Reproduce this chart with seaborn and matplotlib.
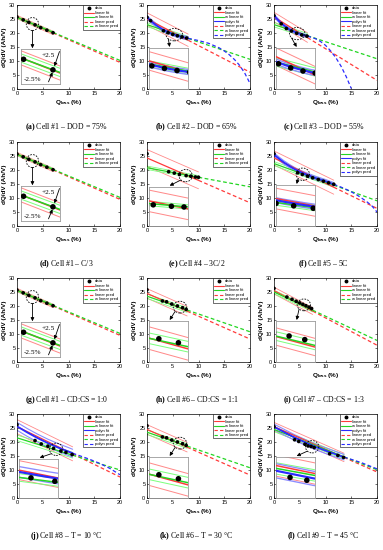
import numpy as np
import matplotlib
matplotlib.use("Agg")
import matplotlib.pyplot as plt
import seaborn as sns
from matplotlib.lines import Line2D
from matplotlib.patches import Ellipse

# ---------------- data ----------------
# (intercept, slope, half band) for linear / weighted linear fits
cell1_x = [0, 1.2, 2.3, 3.5, 4.6, 5.8, 7.0]
cell1_y = [25.7, 24.7, 23.8, 22.9, 21.9, 21.0, 20.1]
cell1_fit_end = 7.0
cell1_lin = (25.7, -0.81, 0.6)
cell1_wlin = (25.6, -0.77, 0.35)

cell2_x = [0, 0.7, 3.2, 4.1, 5.0, 5.9, 6.8, 7.7]
cell2_y = [25.6, 24.4, 20.8, 20.1, 19.5, 19.0, 18.6, 18.2]
cell2_fit_end = 8.0
cell2_lin = (25.0, -0.95, 2.2)
cell2_wlin = (23.0, -0.62, 0.7)
cell2_poly_x = [0, 1, 2, 3, 4, 5, 6, 7, 8, 10, 12, 14, 15, 16, 17, 18, 19, 20]
cell2_poly_y = [25.6, 23.9, 22.5, 21.3, 20.4, 19.6, 19.0, 18.5, 18.1, 17.3, 16.3, 14.7, 13.6, 12.2, 10.5, 8.4, 5.6, 2.0]
cell2_poly_band = 0.6

cell3_x = [0, 1.4, 2.4, 3.4, 4.4, 5.4, 6.4]
cell3_y = [26.2, 23.3, 21.6, 20.7, 19.9, 19.3, 18.9]
cell3_fit_end = 6.5
cell3_lin = (25.7, -1.13, 1.7)
cell3_wlin = (23.0, -0.61, 0.8)
cell3_poly_x = [0, 1, 2, 3, 4, 5, 6, 6.5, 8, 9, 10, 11, 12, 13, 14, 15]
cell3_poly_y = [26.2, 24.2, 22.6, 21.3, 20.4, 19.7, 19.1, 18.9, 18.0, 17.0, 15.6, 13.6, 11.2, 8.2, 4.5, 0.2]
cell3_poly_band = 0.5

cell4_x = [0, 4.2, 5.3, 6.3, 7.6, 8.5, 9.4, 10.0]
cell4_y = [25.8, 19.4, 18.9, 18.4, 18.0, 17.8, 17.5, 17.4]
cell4_fit_end = 10.0
cell4_lin = (24.3, -0.8, 3.0)
cell4_wlin = (20.8, -0.34, 0.6)

cell5_x = [0, 4.6, 5.5, 6.5, 7.5, 8.6, 9.6, 10.6, 11.6]
cell5_y = [25.8, 19.0, 18.4, 17.8, 17.2, 16.6, 16.0, 15.4, 14.9]
cell5_fit_end = 11.6
cell5_lin = (24.3, -0.9, 2.5)
cell5_wlin = (22.3, -0.665, 0.7)
cell5_poly_x = [0, 1, 2, 3, 4, 5, 6, 7, 8, 9, 10, 11, 11.6, 13, 14, 15, 16, 17, 18, 19, 20]
cell5_poly_y = [25.5, 24.0, 22.6, 21.4, 20.3, 19.4, 18.6, 17.9, 17.2, 16.6, 16.0, 15.3, 14.9, 13.9, 13.1, 12.2, 11.2, 10.0, 8.7, 7.2, 5.0]
cell5_poly_band = 0.6

cell6_x = [0, 3.0, 3.8, 4.8, 5.9, 6.9, 7.6]
cell6_y = [25.8, 21.8, 21.5, 20.7, 20.0, 19.4, 18.8]
cell6_fit_end = 7.8
cell6_lin = (24.5, -0.815, 1.7)
cell6_wlin = (23.5, -0.635, 0.8)

cell7_x = [0, 2.5, 3.5, 4.3, 5.0, 5.6, 6.2, 6.8, 7.3]
cell7_y = [26.3, 23.2, 22.4, 21.7, 21.1, 20.6, 20.1, 19.6, 19.1]
cell7_fit_end = 7.5
cell7_lin = (25.5, -0.975, 1.2)
cell7_wlin = (25.0, -0.865, 0.6)

cell8_x = [0, 3.5, 4.7, 6.0, 7.1, 8.5, 9.5, 10.7]
cell8_y = [26.2, 20.5, 19.3, 18.5, 17.7, 16.8, 16.3, 15.5]
cell8_fit_end = 10.8
cell8_lin = (25.5, -0.9, 2.5)
cell8_wlin = (21.5, -0.575, 1.0)
cell8_poly_x = [0, 2, 4, 6, 8, 10, 10.8, 12, 14, 16, 18, 20]
cell8_poly_y = [25.6, 23.4, 21.4, 19.6, 18.0, 16.6, 16.0, 15.2, 13.9, 12.4, 10.6, 8.3]
cell8_poly_band = 1.4

cell9_x = [0, 4.0, 4.8, 6.0, 6.6, 7.2, 7.8, 10.8, 12.4, 13.5]
cell9_y = [25.5, 20.8, 20.2, 19.2, 18.6, 18.4, 18.0, 15.8, 15.2, 14.5]
cell9_fit_end = 13.6
cell9_lin = (25.5, -0.81, 1.5)
cell9_wlin = (24.5, -0.72, 0.8)
cell9_poly_x = [0, 2, 4, 6, 8, 10, 12, 13.6, 15, 17, 20]
cell9_poly_y = [25.4, 23.5, 21.6, 19.9, 18.3, 16.9, 15.6, 14.6, 13.8, 12.6, 10.4]
cell9_poly_band = 1.0

captions = [
    ("(a)", "Cell #1 \u2013 DOD = 75%"), ("(b)", "Cell #2 \u2013 DOD = 65%"), ("(c)", "Cell #3 \u2013 DOD = 55%"),
    ("(d)", "Cell #1 \u2013 C/3"), ("(e)", "Cell #4 \u2013 3C/2"), ("(f)", "Cell #5 \u2013 5C"),
    ("(g)", "Cell #1 \u2013 CD:CS = 1:0"), ("(h)", "Cell #6 \u2013 CD:CS = 1:1"), ("(i)", "Cell #7 \u2013 CD:CS = 1:3"),
    ("(j)", "Cell #8 \u2013 T = 10 \u00b0C"), ("(k)", "Cell #6 \u2013 T = 30 \u00b0C"), ("(l)", "Cell #9 \u2013 T = 45 \u00b0C"),
]
panel_cells = [1, 2, 3, 1, 4, 5, 1, 6, 7, 8, 6, 9]
x_ticks = [0, 5, 10, 15, 20]
y_ticks = [0, 5, 10, 15, 20, 25, 30]

# ---------------- assemble ----------------
g = globals()
CELLS = {}
for n in range(1, 10):
    CELLS[n] = dict(x=g[f"cell{n}_x"], y=g[f"cell{n}_y"], fit_end=g[f"cell{n}_fit_end"],
                    lin=g[f"cell{n}_lin"], wlin=g[f"cell{n}_wlin"],
                    poly=(g[f"cell{n}_poly_x"], g[f"cell{n}_poly_y"], g[f"cell{n}_poly_band"])
                    if f"cell{n}_poly_x" in g else None)

# layout: circle (cx, cy, w, h), inset window (xlim, ylim), inset rect
LAYOUT = {
    1: dict(circ=(3.0, 23.2, 2.4, 4.6), xl=(2.2, 3.8), yl=(21.7, 24.7), rect=[0.04, 0.06, 0.38, 0.42]),
    2: dict(circ=(5.3, 19.4, 3.2, 4.4), xl=(3.9, 6.7), yl=(14.6, 24.4), rect=[0.02, 0.0, 0.38, 0.49]),
    3: dict(circ=(4.5, 19.8, 3.0, 4.4), xl=(3.2, 6.4), yl=(15.8, 23.8), rect=[0.02, 0.0, 0.38, 0.49]),
    4: dict(circ=(7.5, 18.0, 2.6, 4.4), xl=(6.0, 8.8), yl=(12.5, 23.5), rect=[0.02, 0.0, 0.38, 0.47]),
    5: dict(circ=(5.6, 18.5, 2.6, 4.4), xl=(4.6, 6.6), yl=(13.5, 23.5), rect=[0.02, 0.0, 0.38, 0.49]),
    6: dict(circ=(6.4, 19.6, 2.6, 4.2), xl=(5.4, 7.4), yl=(16.5, 22.7), rect=[0.02, 0.0, 0.38, 0.49]),
    7: dict(circ=(5.8, 20.4, 2.6, 4.2), xl=(5.1, 6.6), yl=(17.0, 22.7), rect=[0.02, 0.0, 0.38, 0.49]),
    8: dict(circ=(7.6, 17.4, 2.6, 4.4), xl=(6.4, 8.7), yl=(12.4, 22.8), rect=[0.02, 0.0, 0.38, 0.47]),
    9: dict(circ=(7.4, 18.3, 2.6, 4.4), xl=(6.7, 8.1), yl=(15.5, 21.3), rect=[0.02, 0.0, 0.38, 0.49]),
}

RED, RED_L = "#ff3a3a", "#ff8a8a"
GRN, GRN_L = "#22d622", "#7dff7d"
BLU, BLU_L = "#2a2aff", "#8c8cff"
DASH = (0, (3, 2))

sns.set_theme(style="white")
plt.rcParams["font.family"] = ["Liberation Sans", "DejaVu Sans"]
plt.rcParams["mathtext.fontset"] = "custom"
plt.rcParams["mathtext.rm"] = "Liberation Serif"
plt.rcParams["mathtext.bf"] = "Liberation Serif:bold"
plt.rcParams["axes.edgecolor"] = "black"
plt.rcParams["text.color"] = "black"
plt.rcParams["axes.labelcolor"] = "black"
plt.rcParams["xtick.color"] = "black"
plt.rcParams["ytick.color"] = "black"


def line(ax, x, y, color, lw, ls="-", z=2):
    sns.lineplot(x=np.asarray(x, float), y=np.asarray(y, float), ax=ax, color=color, linewidth=lw,
                 linestyle=ls, estimator=None, sort=False, legend=False, zorder=z)


def draw_cell(ax, c, inset=False):
    fe = c["fit_end"]
    xf = np.array([0.0, fe])
    xp = np.array([fe, 20.0])
    k = 1.2 if inset else 1.0
    for (a, b, band), col, coll in ((c["lin"], RED, RED_L), (c["wlin"], GRN, GRN_L)):
        line(ax, xp, a + b * xp, col, 0.9 * k, DASH)
        line(ax, xf, a + b * xf + band, coll, 0.6 * k)
        line(ax, xf, a + b * xf - band, coll, 0.6 * k)
        line(ax, xf, a + b * xf, col, 0.9 * k, z=3)
    if c["poly"] is not None:
        px, py, band = c["poly"]
        px = np.asarray(px, float)
        py = np.asarray(py, float)
        mf = px <= fe + 1e-9
        mp = px >= fe - 1e-9
        line(ax, px[mp], py[mp], BLU, 0.9 * k, DASH)
        line(ax, px[mf], py[mf] + band, BLU_L, 0.8 * k)
        line(ax, px[mf], py[mf] - band, BLU_L, 0.8 * k)
        line(ax, px[mf], py[mf], BLU, 1.3 * k, z=3)
    sns.scatterplot(x=c["x"], y=c["y"], ax=ax, color="black", s=(16 if inset else 7),
                    edgecolor="none", legend=False, zorder=6)


fig = plt.figure(figsize=(3.83, 5.5), dpi=100)
W, H = 383.0, 550.0
col_left = [17, 147, 274]
row_top = [5, 142, 278, 414]
aw, ah = 103, 84

for i, (cap, n) in enumerate(zip(captions, panel_cells)):
    r, cidx = divmod(i, 3)
    l, t = col_left[cidx], row_top[r]
    ax = fig.add_axes([l / W, 1 - (t + ah) / H, aw / W, ah / H])
    c = CELLS[n]
    L = LAYOUT[n]
    draw_cell(ax, c)
    ax.set_xlim(0, 20)
    ax.set_ylim(0, 30)
    ax.set_xticks(x_ticks)
    ax.set_yticks(y_ticks)
    ax.tick_params(labelsize=4, direction="in", length=1.5, width=0.4, pad=1.2,
                   top=True, right=True, bottom=True, left=True)
    for s in ax.spines.values():
        s.set_linewidth(0.5)
        s.set_color("black")
    ax.set_xlabel(r"Q$_{\mathregular{loss}}$ (%)", fontsize=4.6, fontweight="bold", labelpad=1.5)
    ax.set_ylabel("dQ/dV (Ah/V)", fontsize=4.6, fontweight="bold", labelpad=1.5)

    # legend
    hs = [Line2D([], [], marker="o", color="black", ls="none", ms=1.8, label="data"),
          Line2D([], [], color=RED, lw=0.8, label="linear fit"),
          Line2D([], [], color=GRN, lw=0.8, label="w linear fit")]
    if c["poly"] is not None:
        hs.append(Line2D([], [], color=BLU, lw=0.8, label="polyn fit"))
    hs += [Line2D([], [], color=RED, lw=0.8, ls=DASH, label="linear pred"),
           Line2D([], [], color=GRN, lw=0.8, ls=DASH, label="w linear pred")]
    if c["poly"] is not None:
        hs.append(Line2D([], [], color=BLU, lw=0.8, ls=DASH, label="polyn pred"))
    leg = ax.legend(handles=hs, loc="upper right", fontsize=3.0, frameon=True, fancybox=False,
                    edgecolor="black", framealpha=1, borderpad=0.25, handlelength=2.2,
                    labelspacing=0.12, handletextpad=0.4, borderaxespad=0.1)
    leg.get_frame().set_linewidth(0.4)
    leg.set_zorder(10)

    # circle and arrow
    cx, cy, cw, chh = L["circ"]
    ax.add_patch(Ellipse((cx, cy), cw, chh, fill=False, ec="black", lw=0.6, ls=(0, (2, 1.5)), zorder=7))
    rect = L["rect"]
    if n == 1:
        start = (cx, cy - chh / 2)
        tip = (cx / 20.0, rect[1] + rect[3] + 0.005)
    else:
        start = (cx - cw * 0.36, cy - chh * 0.36)
        tip = (rect[0] + 0.2, rect[1] + rect[3] + 0.01)
    ax.annotate("", xy=tip, xycoords="axes fraction", xytext=start, textcoords="data",
                arrowprops=dict(arrowstyle="-|>", lw=0.6, color="black", mutation_scale=5,
                                shrinkA=0, shrinkB=0), zorder=8)

    # inset
    ins = ax.inset_axes(rect)
    ins.set_zorder(9)
    ins.set_facecolor("white")
    draw_cell(ins, c, inset=True)
    ins.set_xlim(*L["xl"])
    ins.set_ylim(*L["yl"])
    ins.set_xticks([])
    ins.set_yticks([])
    ins.set_xlabel("")
    ins.set_ylabel("")
    for s in ins.spines.values():
        s.set_linewidth(0.6)
        s.set_color("#9a9a9a")
    if n == 1:
        ins.text(0.70, 0.82, "+2.5", transform=ins.transAxes, fontsize=5.2,
                 family="Liberation Serif", ha="center", va="center", zorder=12)
        ins.annotate("", xy=(0.85, 0.50), xycoords="axes fraction", xytext=(0.98, 0.92),
                     arrowprops=dict(arrowstyle="-|>", lw=0.6, color="black", mutation_scale=5,
                                     shrinkA=0, shrinkB=0), zorder=12)
        ins.text(0.30, 0.12, "-2.5%", transform=ins.transAxes, fontsize=5.2,
                 family="Liberation Serif", ha="center", va="center", zorder=12)
        ins.annotate("", xy=(0.80, 0.33), xycoords="axes fraction", xytext=(0.70, 0.06),
                     arrowprops=dict(arrowstyle="-|>", lw=0.6, color="black", mutation_scale=5,
                                     shrinkA=0, shrinkB=0), zorder=12)

    # caption
    fig.text((l + aw / 2 - 2) / W, 1 - (t + 122) / H, r"$\mathbf{" + cap[0] + "}$ " + cap[1],
             fontsize=5.6, family="Liberation Serif", ha="center", va="center")

fig.savefig("out.png", dpi=100, facecolor="white")
